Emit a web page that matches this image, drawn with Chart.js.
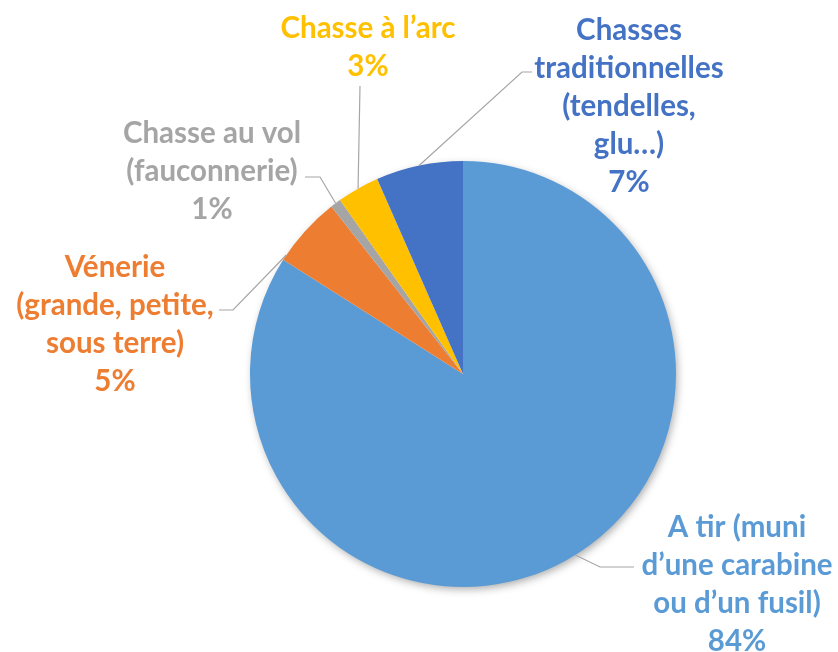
<!DOCTYPE html>
<html>
<head>
<meta charset="utf-8">
<script src="https://cdn.jsdelivr.net/npm/chart.js@4/dist/chart.umd.min.js"></script>
<style>
html,body{margin:0;padding:0;background:#fff;}
#wrap{width:838px;height:652px;position:relative;}
</style>
</head>
<body>
<div id="wrap"><canvas id="c" width="838" height="652"></canvas></div>
<script>
// ---- data ----
const categories = [
  "A tir (muni d’une carabine ou d’un fusil)",
  "Vénerie (grande, petite, sous terre)",
  "Chasse au vol (fauconnerie)",
  "Chasse à l’arc",
  "Chasses traditionnelles (tendelles, glu…)"
];
const values = [84.0, 5.4, 0.8, 3.2, 6.6];
const colors = ["#5B9BD5", "#ED7D31", "#A5A5A5", "#FFC000", "#4472C4"];
const labelLines = [
  ["A tir (muni", "d’une carabine", "ou d’un fusil)"],
  ["Vénerie", "(grande, petite,", "sous terre)"],
  ["Chasse au vol", "(fauconnerie)"],
  ["Chasse à l’arc"],
  ["Chasses", "traditionnelles", "(tendelles,", "glu…)"]
];

// ---- label layout (positions only) ----
const labelPos = [
  {x: 737, y: 527, ex: 600, ey: 567, tx: 634, ty: 567, f: 0.49},
  {x: 115, y: 267, ex: 233, ey: 310, tx: 219, ty: 310, f: 0.08},
  {x: 212, y: 133, ex: 320, ey: 177, tx: 305, ty: 177, f: 0.5},
  {x: 368, y: 28,  ex: 360, ey: 86,  tx: 360, ty: 86,  f: 0.5},
  {x: 629, y: 30,  ex: 522, ey: 72,  tx: 532, ty: 72,  f: 0.5}
];
const lineHeight = 38;
const FONT = "bold 29.5px Lato, 'Open Sans', sans-serif";

const shadowPlugin = {
  id: 'pieShadow',
  beforeDatasetsDraw(chart) {
    const arc = chart.getDatasetMeta(0).data[0];
    if (!arc) return;
    const ctx = chart.ctx;
    ctx.save();
    ctx.shadowColor = 'rgba(0,0,0,0.35)';
    ctx.shadowBlur = 9;
    ctx.shadowOffsetX = 2;
    ctx.shadowOffsetY = 3;
    ctx.fillStyle = '#ffffff';
    ctx.beginPath();
    ctx.arc(arc.x, arc.y, arc.outerRadius - 1, 0, Math.PI * 2);
    ctx.fill();
    ctx.restore();
  }
};

const labelPlugin = {
  id: 'pieLabels',
  afterDatasetsDraw(chart) {
    const ctx = chart.ctx;
    const meta = chart.getDatasetMeta(0);
    const total = values.reduce((a, b) => a + b, 0);
    ctx.save();
    meta.data.forEach((arc, i) => {
      const p = labelPos[i];
      const ang = arc.startAngle + (arc.endAngle - arc.startAngle) * p.f;
      const sx = arc.x + Math.cos(ang) * arc.outerRadius;
      const sy = arc.y + Math.sin(ang) * arc.outerRadius;
      ctx.strokeStyle = '#A6A6A6';
      ctx.lineWidth = 1.2;
      ctx.beginPath();
      ctx.moveTo(sx, sy);
      ctx.lineTo(p.ex, p.ey);
      ctx.lineTo(p.tx, p.ty);
      ctx.stroke();

      const lines = labelLines[i].concat([Math.round(values[i] / total * 100) + '%']);
      ctx.fillStyle = colors[i];
      ctx.font = FONT;
      ctx.textAlign = 'center';
      ctx.textBaseline = 'middle';
      lines.forEach((t, k) => ctx.fillText(t, p.x, p.y + k * lineHeight));
    });
    ctx.restore();
  }
};

new Chart(document.getElementById('c'), {
  type: 'pie',
  data: {
    labels: categories,
    datasets: [{
      data: values,
      backgroundColor: colors,
      borderWidth: 0,
      hoverOffset: 0
    }]
  },
  options: {
    responsive: false,
    animation: false,
    layout: {padding: {top: 161, bottom: 65, left: 250, right: 162}},
    plugins: {legend: {display: false}, tooltip: {enabled: false}, title: {display: false}},
    events: []
  },
  plugins: [shadowPlugin, labelPlugin]
});
</script>
</body>
</html>
